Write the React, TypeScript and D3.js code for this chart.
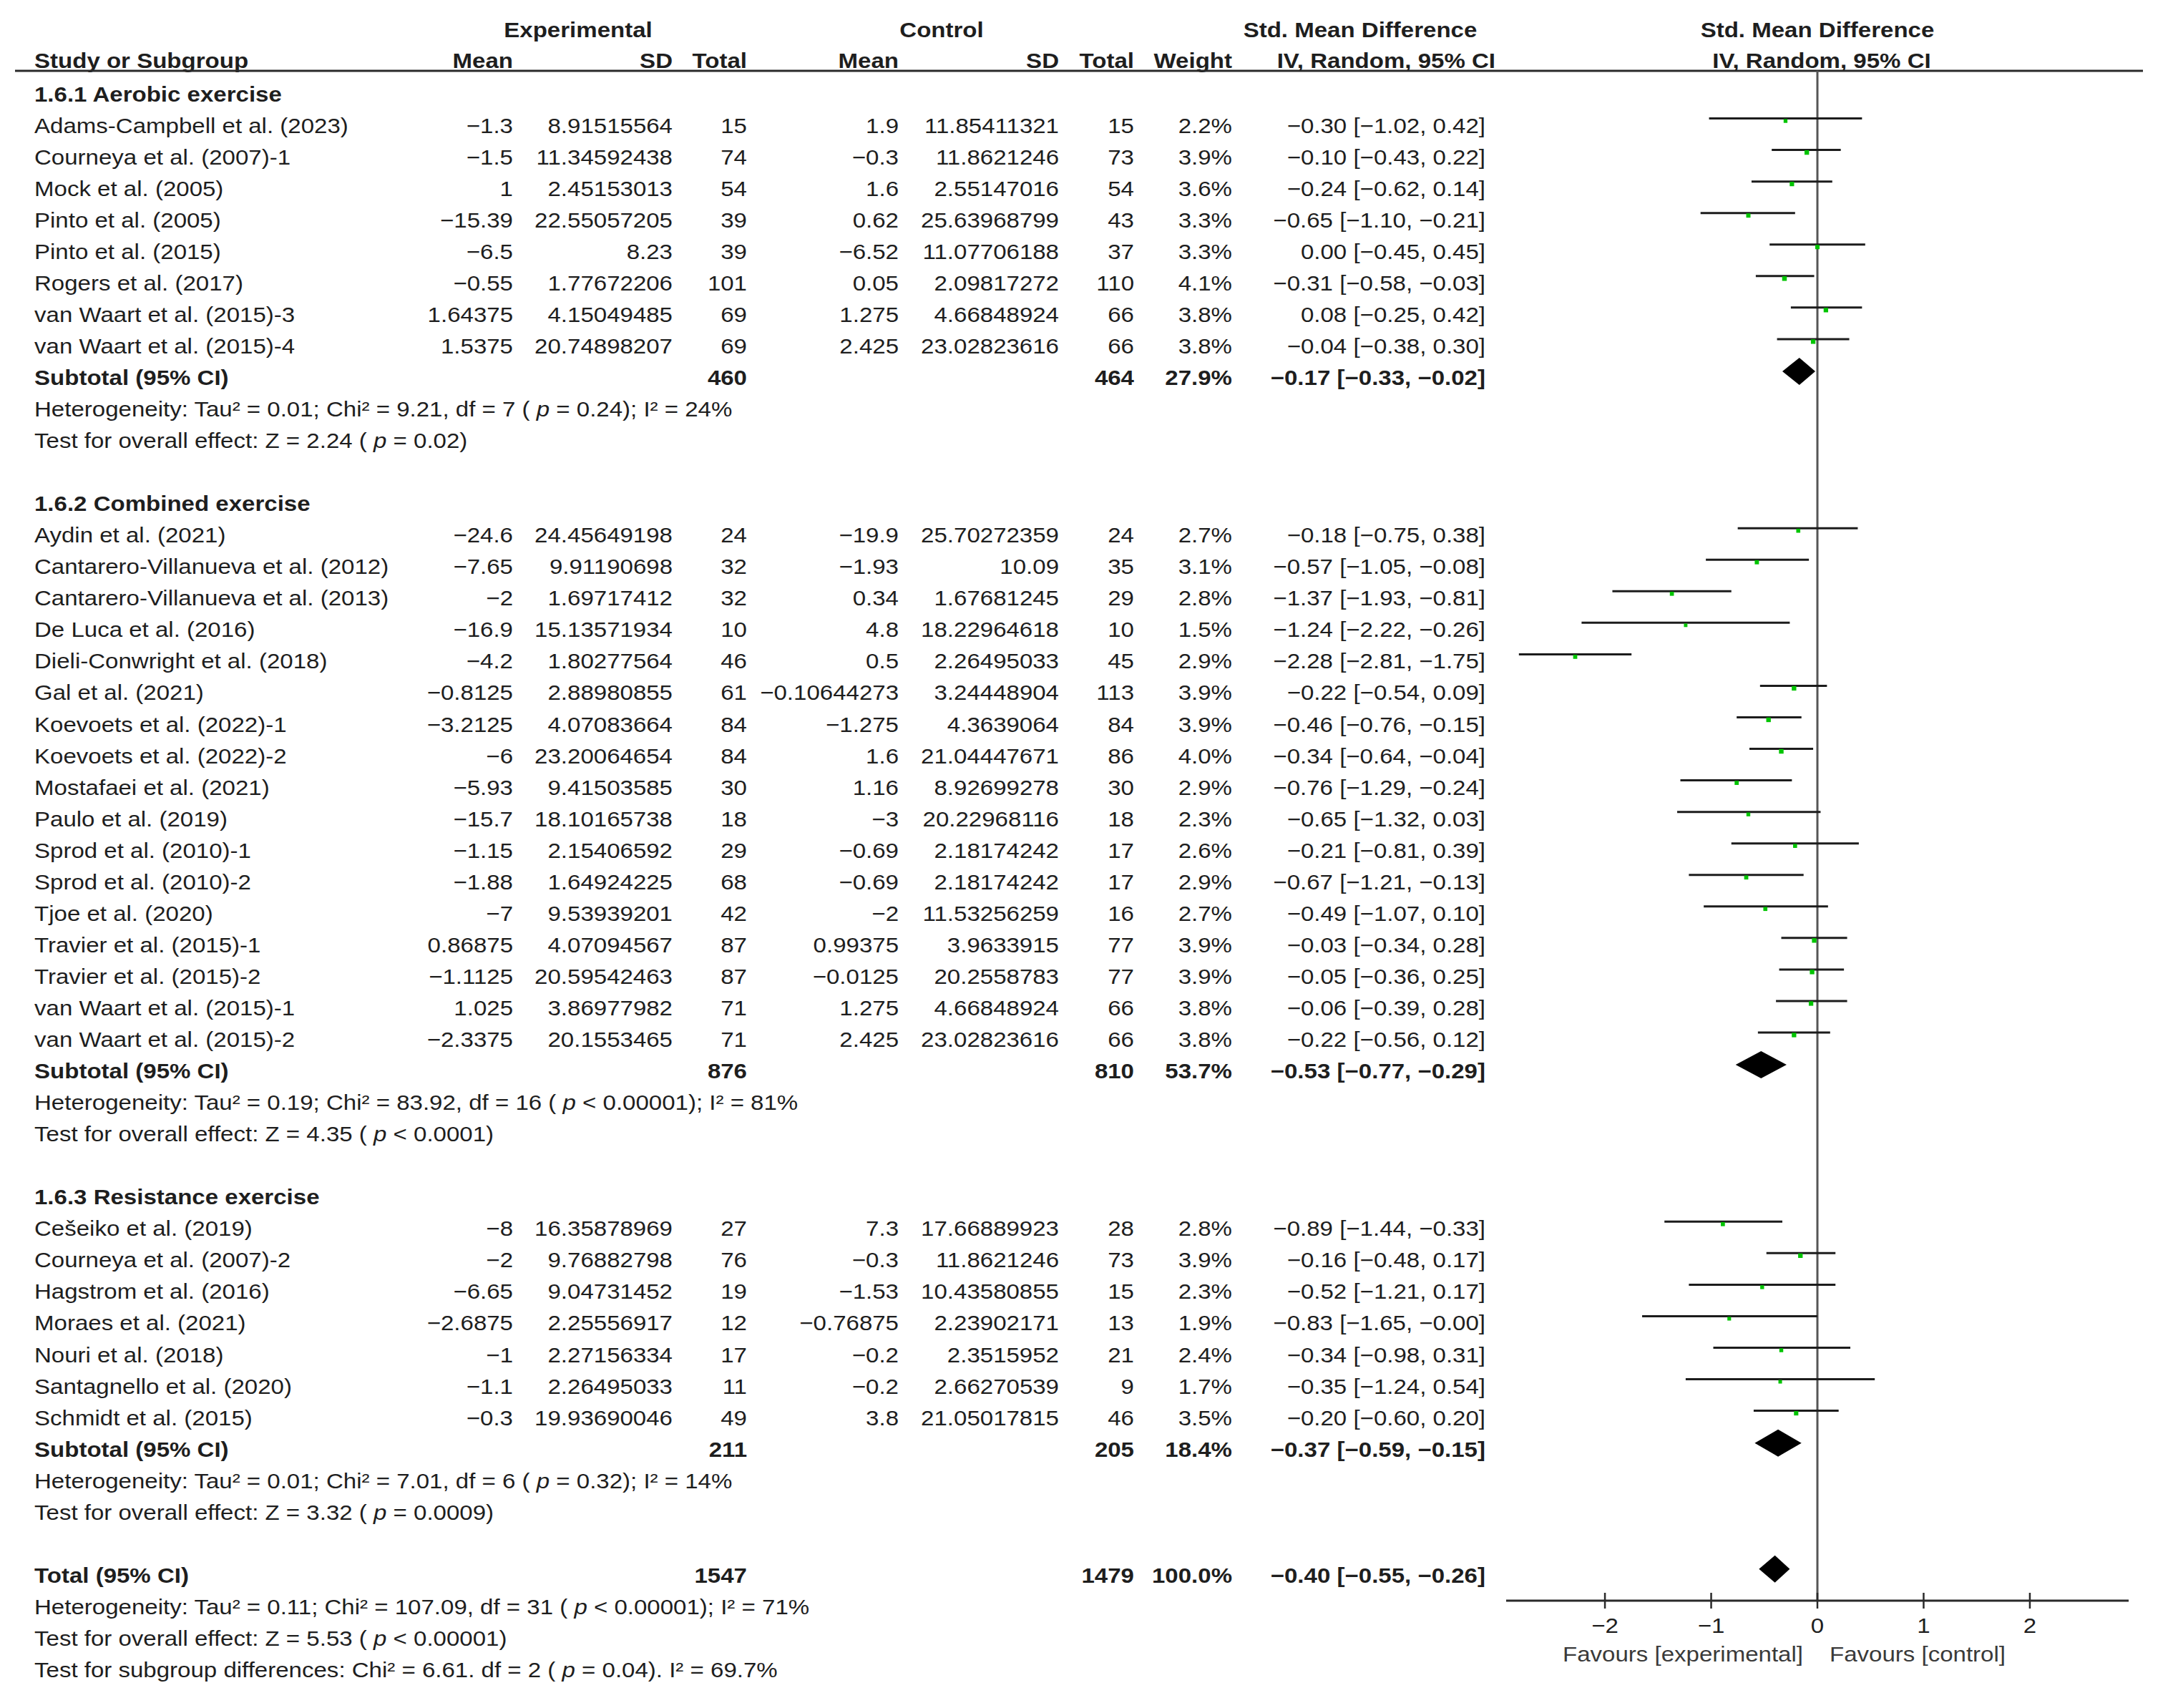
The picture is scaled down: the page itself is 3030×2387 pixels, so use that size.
import React from "react";
import * as d3 from "d3";

// ---------- DATA ----------
type Study = [string, number, number, number, number, number, number, number, number, number, number];
// name, expMean, expSD, expN, ctlMean, ctlSD, ctlN, weight%, smd, lo, hi

const aerobicStudies: Study[] = [
  ["Adams-Campbell et al. (2023)", -1.3, 8.91515564, 15, 1.9, 11.85411321, 15, 2.2, -0.3, -1.02, 0.42],
  ["Courneya et al. (2007)-1", -1.5, 11.34592438, 74, -0.3, 11.8621246, 73, 3.9, -0.1, -0.43, 0.22],
  ["Mock et al. (2005)", 1, 2.45153013, 54, 1.6, 2.55147016, 54, 3.6, -0.24, -0.62, 0.14],
  ["Pinto et al. (2005)", -15.39, 22.55057205, 39, 0.62, 25.63968799, 43, 3.3, -0.65, -1.1, -0.21],
  ["Pinto et al. (2015)", -6.5, 8.23, 39, -6.52, 11.07706188, 37, 3.3, 0.0, -0.45, 0.45],
  ["Rogers et al. (2017)", -0.55, 1.77672206, 101, 0.05, 2.09817272, 110, 4.1, -0.31, -0.58, -0.03],
  ["van Waart et al. (2015)-3", 1.64375, 4.15049485, 69, 1.275, 4.66848924, 66, 3.8, 0.08, -0.25, 0.42],
  ["van Waart et al. (2015)-4", 1.5375, 20.74898207, 69, 2.425, 23.02823616, 66, 3.8, -0.04, -0.38, 0.3],
];

const combinedStudies: Study[] = [
  ["Aydin et al. (2021)", -24.6, 24.45649198, 24, -19.9, 25.70272359, 24, 2.7, -0.18, -0.75, 0.38],
  ["Cantarero-Villanueva et al. (2012)", -7.65, 9.91190698, 32, -1.93, 10.09, 35, 3.1, -0.57, -1.05, -0.08],
  ["Cantarero-Villanueva et al. (2013)", -2, 1.69717412, 32, 0.34, 1.67681245, 29, 2.8, -1.37, -1.93, -0.81],
  ["De Luca et al. (2016)", -16.9, 15.13571934, 10, 4.8, 18.22964618, 10, 1.5, -1.24, -2.22, -0.26],
  ["Dieli-Conwright et al. (2018)", -4.2, 1.80277564, 46, 0.5, 2.26495033, 45, 2.9, -2.28, -2.81, -1.75],
  ["Gal et al. (2021)", -0.8125, 2.88980855, 61, -0.10644273, 3.24448904, 113, 3.9, -0.22, -0.54, 0.09],
  ["Koevoets et al. (2022)-1", -3.2125, 4.07083664, 84, -1.275, 4.3639064, 84, 3.9, -0.46, -0.76, -0.15],
  ["Koevoets et al. (2022)-2", -6, 23.20064654, 84, 1.6, 21.04447671, 86, 4.0, -0.34, -0.64, -0.04],
  ["Mostafaei et al. (2021)", -5.93, 9.41503585, 30, 1.16, 8.92699278, 30, 2.9, -0.76, -1.29, -0.24],
  ["Paulo et al. (2019)", -15.7, 18.10165738, 18, -3, 20.22968116, 18, 2.3, -0.65, -1.32, 0.03],
  ["Sprod et al. (2010)-1", -1.15, 2.15406592, 29, -0.69, 2.18174242, 17, 2.6, -0.21, -0.81, 0.39],
  ["Sprod et al. (2010)-2", -1.88, 1.64924225, 68, -0.69, 2.18174242, 17, 2.9, -0.67, -1.21, -0.13],
  ["Tjoe et al. (2020)", -7, 9.53939201, 42, -2, 11.53256259, 16, 2.7, -0.49, -1.07, 0.1],
  ["Travier et al. (2015)-1", 0.86875, 4.07094567, 87, 0.99375, 3.9633915, 77, 3.9, -0.03, -0.34, 0.28],
  ["Travier et al. (2015)-2", -1.1125, 20.59542463, 87, -0.0125, 20.2558783, 77, 3.9, -0.05, -0.36, 0.25],
  ["van Waart et al. (2015)-1", 1.025, 3.86977982, 71, 1.275, 4.66848924, 66, 3.8, -0.06, -0.39, 0.28],
  ["van Waart et al. (2015)-2", -2.3375, 20.1553465, 71, 2.425, 23.02823616, 66, 3.8, -0.22, -0.56, 0.12],
];

const resistanceStudies: Study[] = [
  ["Cešeiko et al. (2019)", -8, 16.35878969, 27, 7.3, 17.66889923, 28, 2.8, -0.89, -1.44, -0.33],
  ["Courneya et al. (2007)-2", -2, 9.76882798, 76, -0.3, 11.8621246, 73, 3.9, -0.16, -0.48, 0.17],
  ["Hagstrom et al. (2016)", -6.65, 9.04731452, 19, -1.53, 10.43580855, 15, 2.3, -0.52, -1.21, 0.17],
  ["Moraes et al. (2021)", -2.6875, 2.25556917, 12, -0.76875, 2.23902171, 13, 1.9, -0.83, -1.65, -0],
  ["Nouri et al. (2018)", -1, 2.27156334, 17, -0.2, 2.3515952, 21, 2.4, -0.34, -0.98, 0.31],
  ["Santagnello et al. (2020)", -1.1, 2.26495033, 11, -0.2, 2.66270539, 9, 1.7, -0.35, -1.24, 0.54],
  ["Schmidt et al. (2015)", -0.3, 19.93690046, 49, 3.8, 21.05017815, 46, 3.5, -0.2, -0.6, 0.2],
];

const groupTitles = ["1.6.1 Aerobic exercise", "1.6.2 Combined exercise", "1.6.3 Resistance exercise"];
// expTotal, ctlTotal, weight, smd, lo, hi
const subtotals: [number, number, number, number, number, number][] = [
  [460, 464, 27.9, -0.17, -0.33, -0.02],
  [876, 810, 53.7, -0.53, -0.77, -0.29],
  [211, 205, 18.4, -0.37, -0.59, -0.15],
];
const overall: [number, number, number, number, number, number] = [1547, 1479, 100.0, -0.4, -0.55, -0.26];

// text parts: odd indices italic
const groupHet: string[][] = [
  ["Heterogeneity: Tau² = 0.01; Chi² = 9.21, df = 7 ( ", "p", " = 0.24); I² = 24%"],
  ["Heterogeneity: Tau² = 0.19; Chi² = 83.92, df = 16 ( ", "p", " < 0.00001); I² = 81%"],
  ["Heterogeneity: Tau² = 0.01; Chi² = 7.01, df = 6 ( ", "p", " = 0.32); I² = 14%"],
];
const groupTest: string[][] = [
  ["Test for overall effect: Z = 2.24 ( ", "p", " = 0.02)"],
  ["Test for overall effect: Z = 4.35 ( ", "p", " < 0.0001)"],
  ["Test for overall effect: Z = 3.32 ( ", "p", " = 0.0009)"],
];
const overallNotes: string[][] = [
  ["Heterogeneity: Tau² = 0.11; Chi² = 107.09, df = 31 ( ", "p", " < 0.00001); I² = 71%"],
  ["Test for overall effect: Z = 5.53 ( ", "p", " < 0.00001)"],
  ["Test for subgroup differences: Chi² = 6.61. df = 2 ( ", "p", " = 0.04). I² = 69.7%"],
];

const axisTicks = [-2, -1, 0, 1, 2];
const favourLabels = ["Favours [experimental]", "Favours [control]"];

// ---------- LAYOUT ----------
const W = 3030;
const H = 2387;
const SX = 1.12;
const FS = 29.5;
const FONT = "'Liberation Sans', Arial, Helvetica, sans-serif";
const TXT = "#1e1e1e";

const COL = {
  name: 48,
  expMean: 717,
  expSd: 940,
  expN: 1044,
  ctlMean: 1256,
  ctlSd: 1480,
  ctlN: 1585,
  weight: 1722,
  ci: 2076,
};

const fmtNum = (v: number) => String(v).replace("-", "\u2212");
const fmt2 = (v: number) => (v < 0 || Object.is(v, -0) ? "\u2212" + Math.abs(v).toFixed(2) : v.toFixed(2));
const fmtCI = (e: number, lo: number, hi: number) => `${fmt2(e)} [${fmt2(lo)}, ${fmt2(hi)}]`;

function T(props: {
  x: number;
  y: number;
  anchor?: "start" | "middle" | "end";
  bold?: boolean;
  fill?: string;
  children: React.ReactNode;
}) {
  const { x, y, anchor = "start", bold, fill = TXT, children } = props;
  return (
    <text
      transform={`translate(${x},${y}) scale(${SX},1)`}
      textAnchor={anchor}
      fontFamily={FONT}
      fontSize={FS}
      fontWeight={bold ? "bold" : "normal"}
      fill={fill}
    >
      {children}
    </text>
  );
}

function Parts({ parts }: { parts: string[] }) {
  return (
    <>
      {parts.map((p, i) => (
        <tspan key={i} fontStyle={i % 2 === 1 ? "italic" : "normal"}>
          {p}
        </tspan>
      ))}
    </>
  );
}

export default function App() {
  const x = d3.scaleLinear().domain([-2.93, 2.93]).range([2105, 2975]);
  const rowY = d3.scaleLinear().domain([0, 50]).range([141.5, 141.5 + 50 * 44.05]);

  const groups = [aerobicStudies, combinedStudies, resistanceStudies];
  const elements: React.ReactNode[] = [];
  let r = 0;
  const headerLineY = 99;
  const axisY = 2237;

  groups.forEach((studies, gi) => {
    elements.push(
      <T key={`g${gi}`} x={COL.name} y={rowY(r)} bold>
        {groupTitles[gi]}
      </T>
    );
    r++;
    studies.forEach((s, si) => {
      const y = rowY(r);
      const [name, em, esd, en, cm, csd, cn, w, smd, lo, hi] = s;
      const side = 4 + w * 0.6;
      elements.push(
        <g key={`s${gi}-${si}`}>
          <T x={COL.name} y={y}>{name}</T>
          <T x={COL.expMean} y={y} anchor="end">{fmtNum(em)}</T>
          <T x={COL.expSd} y={y} anchor="end">{fmtNum(esd)}</T>
          <T x={COL.expN} y={y} anchor="end">{String(en)}</T>
          <T x={COL.ctlMean} y={y} anchor="end">{fmtNum(cm)}</T>
          <T x={COL.ctlSd} y={y} anchor="end">{fmtNum(csd)}</T>
          <T x={COL.ctlN} y={y} anchor="end">{String(cn)}</T>
          <T x={COL.weight} y={y} anchor="end">{w.toFixed(1) + "%"}</T>
          <T x={COL.ci} y={y} anchor="end">{fmtCI(smd, lo, hi)}</T>
          <line x1={x(lo)} x2={x(hi)} y1={y - 20} y2={y - 20} stroke="#1c1c1c" strokeWidth={3} />
          <rect x={x(smd) - side / 2} y={y - 16.5 - side / 2} width={side} height={side} fill="#00c400" />
        </g>
      );
      r++;
    });
    const st = subtotals[gi];
    const y = rowY(r);
    elements.push(
      <g key={`st${gi}`}>
        <T x={COL.name} y={y} bold>Subtotal (95% CI)</T>
        <T x={COL.expN} y={y} anchor="end" bold>{String(st[0])}</T>
        <T x={COL.ctlN} y={y} anchor="end" bold>{String(st[1])}</T>
        <T x={COL.weight} y={y} anchor="end" bold>{st[2].toFixed(1) + "%"}</T>
        <T x={COL.ci} y={y} anchor="end" bold>{fmtCI(st[3], st[4], st[5])}</T>
        <path
          d={`M${x(st[4])},${y - 19} L${x(st[3])},${y - 38} L${x(st[5])},${y - 19} L${x(st[3])},${y} Z`}
          fill="#000"
        />
      </g>
    );
    r++;
    elements.push(
      <T key={`h${gi}`} x={COL.name} y={rowY(r)}>
        <Parts parts={groupHet[gi]} />
      </T>
    );
    r++;
    elements.push(
      <T key={`t${gi}`} x={COL.name} y={rowY(r)}>
        <Parts parts={groupTest[gi]} />
      </T>
    );
    r++;
    r++; // blank
  });

  const ty = rowY(r);
  elements.push(
    <g key="total">
      <T x={COL.name} y={ty} bold>Total (95% CI)</T>
      <T x={COL.expN} y={ty} anchor="end" bold>{String(overall[0])}</T>
      <T x={COL.ctlN} y={ty} anchor="end" bold>{String(overall[1])}</T>
      <T x={COL.weight} y={ty} anchor="end" bold>{overall[2].toFixed(1) + "%"}</T>
      <T x={COL.ci} y={ty} anchor="end" bold>{fmtCI(overall[3], overall[4], overall[5])}</T>
      <path
        d={`M${x(overall[4])},${ty - 19} L${x(overall[3])},${ty - 38} L${x(overall[5])},${ty - 19} L${x(overall[3])},${ty} Z`}
        fill="#000"
      />
    </g>
  );
  r++;
  overallNotes.forEach((p, i) => {
    elements.push(
      <T key={`on${i}`} x={COL.name} y={rowY(r)}>
        <Parts parts={p} />
      </T>
    );
    r++;
  });

  return (
    <svg
      width={W}
      height={H}
      viewBox={`0 0 ${W} ${H}`}
      style={{ position: "absolute", left: 0, top: 0, background: "#fff", display: "block" }}
    >
      <rect x={0} y={0} width={W} height={H} fill="#fff" />
      {/* headers */}
      <T x={808} y={52} anchor="middle" bold>Experimental</T>
      <T x={1316} y={52} anchor="middle" bold>Control</T>
      <T x={1901} y={52} anchor="middle" bold>Std. Mean Difference</T>
      <T x={x(0)} y={52} anchor="middle" bold>Std. Mean Difference</T>
      <T x={COL.name} y={95} bold>Study or Subgroup</T>
      <T x={COL.expMean} y={95} anchor="end" bold>Mean</T>
      <T x={COL.expSd} y={95} anchor="end" bold>SD</T>
      <T x={COL.expN} y={95} anchor="end" bold>Total</T>
      <T x={COL.ctlMean} y={95} anchor="end" bold>Mean</T>
      <T x={COL.ctlSd} y={95} anchor="end" bold>SD</T>
      <T x={COL.ctlN} y={95} anchor="end" bold>Total</T>
      <T x={COL.weight} y={95} anchor="end" bold>Weight</T>
      <T x={2090} y={95} anchor="end" bold>IV, Random, 95% CI</T>
      <T x={x(0) + 6} y={95} anchor="middle" bold>IV, Random, 95% CI</T>
      <line x1={21} x2={2995} y1={headerLineY} y2={headerLineY} stroke="#2a2a2a" strokeWidth={3} />

      {/* zero line */}
      <line x1={x(0)} x2={x(0)} y1={headerLineY} y2={axisY} stroke="#555" strokeWidth={3} />

      {elements}

      {/* axis */}
      <line x1={x.range()[0]} x2={x.range()[1]} y1={axisY} y2={axisY} stroke="#2a2a2a" strokeWidth={3} />
      {axisTicks.map((t) => (
        <g key={t}>
          <line x1={x(t)} x2={x(t)} y1={axisY - 11} y2={axisY + 11} stroke="#2a2a2a" strokeWidth={2.5} />
          <T x={x(t)} y={2282} anchor="middle">{fmtNum(t)}</T>
        </g>
      ))}
      <T x={x(0) - 20} y={2322} anchor="end" fill="#3a3a3a">{favourLabels[0]}</T>
      <T x={x(0) + 17} y={2322} anchor="start" fill="#3a3a3a">{favourLabels[1]}</T>
    </svg>
  );
}
